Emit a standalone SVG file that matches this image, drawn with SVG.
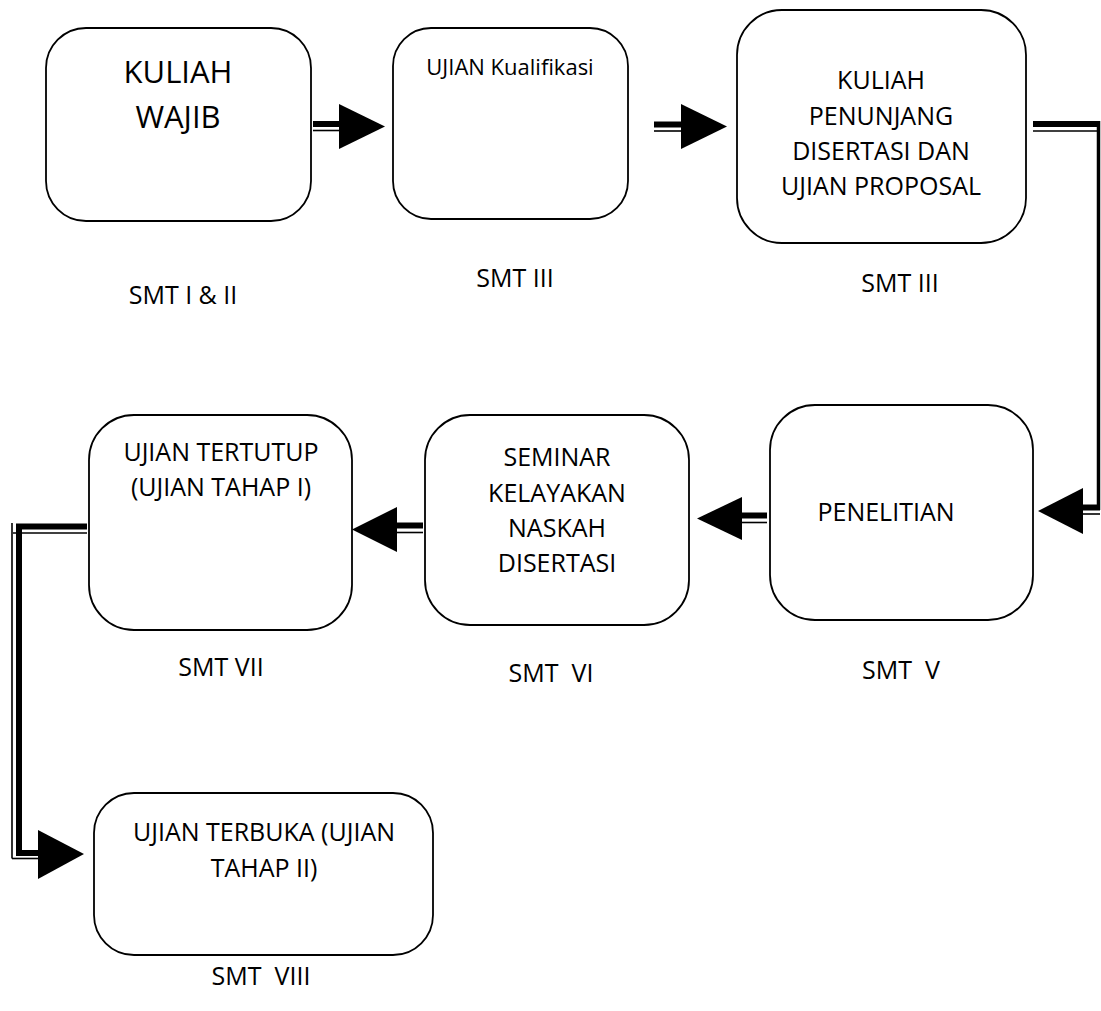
<svg xmlns="http://www.w3.org/2000/svg" width="1101" height="1011" viewBox="0 0 1101 1011">
<style>
.box{fill:#fff;stroke:#000;stroke-width:1.8}
.t{font-family:"Open Sans","Liberation Sans",sans-serif;font-size:25px;fill:#000;text-anchor:middle}
.big{font-size:31px}
.mid{font-size:22px}
.thick{fill:none;stroke:#000;stroke-width:6}
.thin{fill:none;stroke:#000;stroke-width:1.6}
.head{fill:#000}
</style>
<rect width="1101" height="1011" fill="#fff"/>
<g id="connectors">
  <line class="thick" x1="313" y1="124" x2="340" y2="124"/>
  <line class="thin" x1="313" y1="130.5" x2="340" y2="130.5"/>
  <polygon class="head" points="339,104 385,126.5 339,149"/>
  <line class="thick" x1="654" y1="124.5" x2="682" y2="124.5"/>
  <line class="thin" x1="654" y1="131" x2="682" y2="131"/>
  <polygon class="head" points="681,104 727,126.5 681,149"/>
  <line class="thick" x1="1033" y1="124" x2="1097" y2="124"/>
  <line class="thin" x1="1033" y1="131" x2="1097" y2="131"/>
  <line x1="1098.5" y1="121" x2="1098.5" y2="510" stroke="#000" stroke-width="3.5"/>
  <line class="thick" x1="1082" y1="507.5" x2="1100" y2="507.5"/>
  <line class="thin" x1="1082" y1="514" x2="1100" y2="514"/>
  <polygon class="head" points="1083,488 1038,511 1083,534"/>
  <line class="thick" x1="767" y1="515.5" x2="741" y2="515.5"/>
  <line class="thin" x1="767" y1="522.5" x2="741" y2="522.5"/>
  <polygon class="head" points="742,497 697,518.5 742,540"/>
  <line class="thick" x1="423" y1="525.5" x2="396" y2="525.5"/>
  <line class="thin" x1="423" y1="532.5" x2="396" y2="532.5"/>
  <polygon class="head" points="397,507 352,529.5 397,552"/>
  <polyline class="thick" points="87,526.5 19,526.5 19,853 40,853"/>
  <line class="thin" x1="13" y1="533" x2="87" y2="533"/>
  <line class="thin" x1="12" y1="523" x2="12" y2="858.5"/>
  <line class="thin" x1="12" y1="858.5" x2="40" y2="858.5"/>
  <polygon class="head" points="38,830 84,854 38,879"/>
</g>
<g id="n1">
  <rect class="box" x="46" y="28" width="265" height="193" rx="40"/>
  <text class="t big" x="178" y="83">KULIAH</text>
  <text class="t big" x="178" y="128">WAJIB</text>
</g>
<text class="t" x="183" y="304">SMT I &amp; II</text>
<g id="n2">
  <rect class="box" x="393" y="28" width="235" height="191" rx="38"/>
  <text class="t mid" x="510" y="75">UJIAN Kualifikasi</text>
</g>
<text class="t" x="515" y="287">SMT III</text>
<g id="n3">
  <rect class="box" x="737" y="10" width="289" height="233" rx="45"/>
  <text class="t" x="881" y="89">KULIAH</text>
  <text class="t" x="881" y="125">PENUNJANG</text>
  <text class="t" x="881" y="160">DISERTASI DAN</text>
  <text class="t" x="881" y="195">UJIAN PROPOSAL</text>
</g>
<text class="t" x="900" y="292">SMT III</text>
<g id="n4">
  <rect class="box" x="770" y="405" width="263" height="215" rx="45"/>
  <text class="t" x="886" y="521">PENELITIAN</text>
</g>
<text class="t" x="901" y="679" xml:space="preserve">SMT  V</text>
<g id="n5">
  <rect class="box" x="425" y="415" width="264" height="210" rx="45"/>
  <text class="t" x="557" y="466">SEMINAR</text>
  <text class="t" x="557" y="502">KELAYAKAN</text>
  <text class="t" x="557" y="537">NASKAH</text>
  <text class="t" x="557" y="572">DISERTASI</text>
</g>
<text class="t" x="551" y="682" xml:space="preserve">SMT  VI</text>
<g id="n6">
  <rect class="box" x="89" y="415" width="263" height="215" rx="45"/>
  <text class="t" x="221" y="461">UJIAN TERTUTUP</text>
  <text class="t" x="221" y="496">(UJIAN TAHAP I)</text>
</g>
<text class="t" x="221" y="676">SMT VII</text>
<g id="n7">
  <rect class="box" x="94" y="793" width="339" height="162" rx="40"/>
  <text class="t" x="264" y="841">UJIAN TERBUKA (UJIAN</text>
  <text class="t" x="264" y="877">TAHAP II)</text>
</g>
<text class="t" x="261" y="985" xml:space="preserve">SMT  VIII</text>
</svg>
